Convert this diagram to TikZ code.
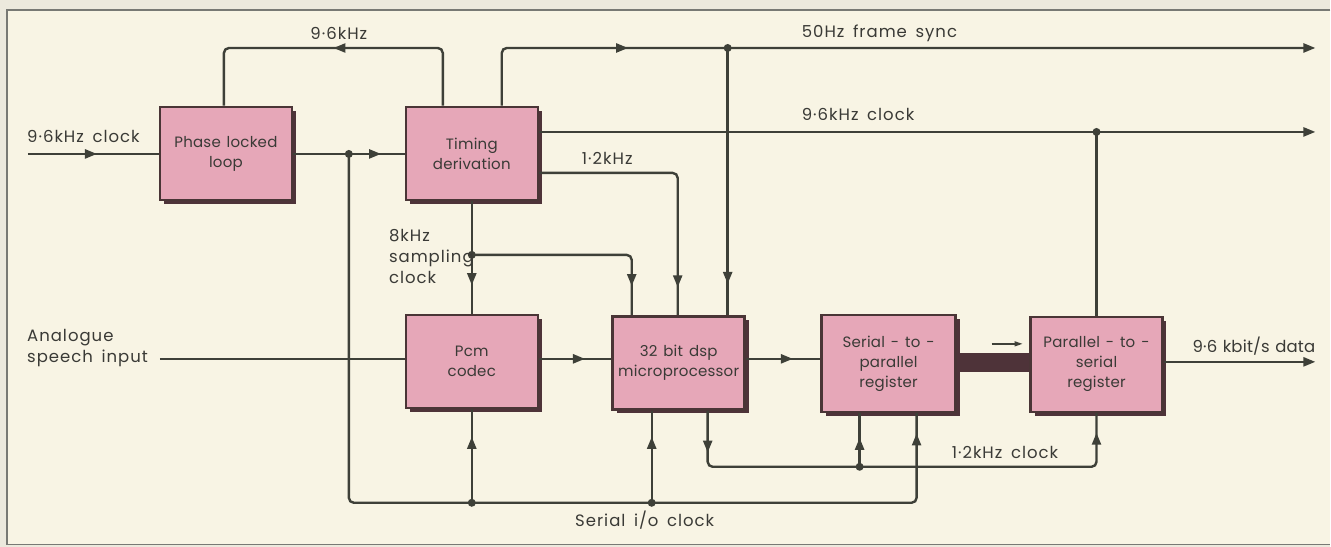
\documentclass[tikz,border=0pt]{standalone}
\usepackage{fontspec}
\setmainfont{Poppins}[LetterSpace=6, WordSpace=1.6]
\newfontfamily\boxfont{Poppins}[LetterSpace=1.5, WordSpace=1.4]
\newfontfamily\tightfont{Poppins}[LetterSpace=1, WordSpace=1.2]
\usetikzlibrary{arrows.meta,decorations.markings,shadows,calc}
\definecolor{bg}{HTML}{F8F4E4}
\definecolor{outerbg}{HTML}{ECE9DD}
\definecolor{ln}{HTML}{3E4038}
\definecolor{boxfill}{HTML}{E6A7B8}
\definecolor{boxedge}{HTML}{4A3536}
\definecolor{shad}{HTML}{4E3339}
\definecolor{txt}{HTML}{3A3A36}
\tikzset{
  blk/.style={draw=boxedge, line width=2.5pt, fill=boxfill, minimum width=132pt,
    minimum height=93pt, align=center, inner sep=2pt,
    font=\boxfont\fontsize{15}{20}\selectfont, text=txt,
    drop shadow={shadow xshift=4pt, shadow yshift=-4pt, fill=shad, opacity=1}},
  wire/.style={draw=ln, line width=2.4pt, rounded corners=5pt},
  outarr/.style={-{Triangle[length=12pt,width=9pt]}},
  am/.style={postaction={decorate, decoration={markings,
    mark=at position #1 with {\arrow{Triangle[length=12pt,width=9pt]}}}}},
  lbl/.style={font=\fontsize{16.5}{21}\selectfont, text=txt, inner sep=0pt},
  jdot/.style={circle, fill=ln, inner sep=0pt, minimum size=8pt},
}
\begin{document}
\begin{tikzpicture}[x=1pt, y=-1pt]
\fill[outerbg] (0,0) rectangle (1331,547);
\fill[bg] (7,10) rectangle (1331,545);
\draw[ln!70, line width=1.2pt] (1331,10) -- (7,10) -- (7,545) -- (1331,545);
\useasboundingbox (0,0) rectangle (1331,547);

% blocks
\node[blk] (pll) at (226,153.5) {Phase locked\\loop};
\node[blk] (tim) at (472,153.5) {Timing\\derivation};
\node[blk] (pcm) at (472,361.5) {Pcm\\codec};
\node[blk] (dsp) at (679,363) {32 bit dsp\\microprocessor};
\node[blk, minimum width=134pt, minimum height=97pt] (sp) at (889,363.5) {Serial - to -\\parallel\\register};
\node[blk, minimum height=95pt] (ps) at (1097,364.5) {Parallel - to -\\serial\\register};

% coordinates
\coordinate (inclk) at (28,154);
\coordinate (j1) at (349,154);
\coordinate (fbT) at (443,48);
\coordinate (fbP) at (224,48);
\coordinate (fsS) at (502,48);
\coordinate (fsout) at (1316,48);
\coordinate (j2) at (728,48);
\coordinate (clkout) at (1316,132);
\coordinate (j3) at (1097,132);
\coordinate (c12) at (678,173);
\coordinate (j4) at (472,255);
\coordinate (s8) at (632,255);
\coordinate (ain) at (160,359);
\coordinate (dout) at (1316,362);
\coordinate (busy) at (0,362.5);
\coordinate (sa1) at (992,344);
\coordinate (sa2) at (1023,344);
\coordinate (sb1) at (349,503);
\coordinate (sb2) at (917,503);
\coordinate (j5) at (472,503);
\coordinate (j6) at (652,503);
\coordinate (cb1) at (708,467);
\coordinate (cb2) at (1097,467);
\coordinate (j7) at (860,467);

% wires
\draw[wire, am=69pt] (inclk) -- (inclk -| pll.west);
\draw[wire, am=88pt] (pll.east |- j1) -- (tim.west |- j1);
\draw[wire, am=165pt] (fbT |- tim.north) -- (fbT) -- (fbP) -- (fbP |- pll.north);
\draw[wire, outarr, am=182pt] (fsS |- tim.north) -- (fsS) -- (fsout);
\draw[wire, am=236pt] (j2) -- (j2 |- dsp.north);
\draw[wire, outarr] (clkout -| tim.east) -- (clkout);
\draw[wire] (j3) -- (ps.north);
\draw[wire, am=251pt] (c12 -| tim.east) -- (c12) -- (c12 |- dsp.north);
\draw[wire, am=84pt] (tim.south) -- (pcm.north);
\draw[wire, am=189pt] (j4) -- (s8) -- (s8 |- dsp.north);
\draw[wire] (ain) -- (ain -| pcm.west);
\draw[wire, am=46pt] (pcm.east |- ain) -- (dsp.west |- ain);
\draw[wire, am=47pt] (dsp.east |- ain) -- (sp.west |- ain);
\draw[draw=shad, line width=19pt] (sp.east |- busy) -- (ps.west |- busy);
\draw[ln, line width=1.3pt, -{Triangle[length=8pt,width=5pt]}] (sa1) -- (sa2);
\draw[wire, outarr] (ps.east |- dout) -- (dout);
\draw[wire, am=982pt] (j1) -- (sb1) -- (sb2) -- (sb2 |- sp.south);
\draw[wire, am=66pt] (j5) -- (pcm.south);
\draw[wire, am=66pt] (j6) -- (j6 |- dsp.south);
\draw[wire, am=42pt, am=475pt] (cb1 |- dsp.south) -- (cb1) -- (cb2) -- (ps.south);
\draw[wire, am=29pt] (j7) -- (j7 |- sp.south);

% junction dots
\node[jdot] (d1) at (j1) {};
\node[jdot] (d2) at (j2) {};
\node[jdot] (d3) at (j3) {};
\node[jdot] (d4) at (j4) {};
\node[jdot] (d5) at (j5) {};
\node[jdot] (d6) at (j6) {};
\node[jdot] (d7) at (j7) {};

% labels
\node[lbl] (l96) at (339,33) {9·6kHz};
\node[lbl, anchor=west] (lin) at (27,137) {9·6kHz clock};
\node[lbl, anchor=west] (lfs) at (802,33) {50Hz frame sync};
\node[lbl, anchor=west] (lck) at (802,115) {9·6kHz clock};
\node[lbl, anchor=west] (l12) at (582,158) {1·2kHz};
\node[lbl, anchor=north west, align=left] (l8) at (389,229) {8kHz\\sampling\\clock};
\node[lbl, anchor=west, align=left] (lan) at (27,348) {Analogue\\speech input};
\node[lbl, anchor=west, font=\tightfont\fontsize{16.5}{21}\selectfont] (lout) at (1193,346) {9·6 kbit/s data};
\node[lbl, anchor=west] (lc12) at (952,453) {1·2kHz clock};
\node[lbl] (lsio) at (645,520) {Serial i/o clock};
\end{tikzpicture}
\end{document}
